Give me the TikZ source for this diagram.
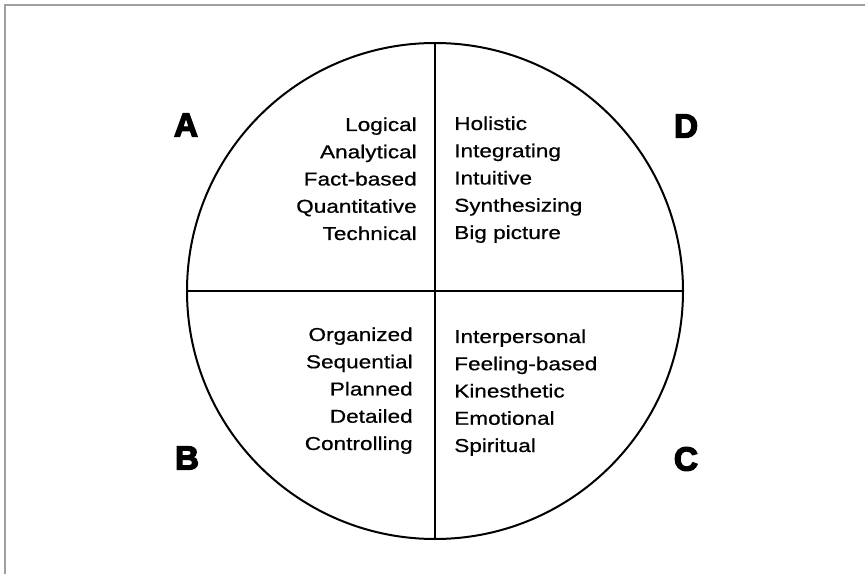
\documentclass[tikz,border=0pt]{standalone}
\usepackage{fontspec}
\setmainfont{Liberation Sans}
\newfontfamily\widesans{Liberation Sans}[FakeStretch=1.21,FakeBold=0.6]
\newfontfamily\heavysans{Liberation Sans Bold}[FakeBold=4]
\usetikzlibrary{positioning}
\begin{document}
\begin{tikzpicture}[x=0.75pt,y=-0.75pt,font=\widesans\fontsize{14}{20.44}\selectfont,words/.style={inner sep=0pt},letter/.style={inner sep=0pt, font=\heavysans\fontsize{25}{25}\selectfont}]
\useasboundingbox (0,0) rectangle (865,574);
\draw[gray!75, line width=0.9pt] (5,574) -- (5,5) -- (865,5);
\node[circle, draw, line width=1.5pt, minimum size=372pt, inner sep=0pt] (wheel) at (435,291) {};
\draw[line width=1.5pt] (wheel.north) -- (wheel.south);\draw[line width=1.5pt] (wheel.west) -- (wheel.east);
\node[words, align=right, anchor=base east] (logic) at (417,240) {Logical\\Analytical\\Fact-based\\Quantitative\\Technical};
\node[words, align=left, anchor=base west] (whole) at (454,239) {Holistic\\Integrating\\Intuitive\\Synthesizing\\Big picture};
\node[words, align=right, anchor=base east] (order) at (413,450) {Organized\\Sequential\\Planned\\Detailed\\Controlling};
\node[words, align=left, anchor=base west] (feel) at (454,452) {Interpersonal\\Feeling-based\\Kinesthetic\\Emotional\\Spiritual};
\node[letter] (A) at (186,125) {A};\node[letter] (D) at (686,126) {D};
\node[letter] (B) at (187,458) {B};\node[letter] (C) at (686,459) {C};
\end{tikzpicture}
\end{document}
